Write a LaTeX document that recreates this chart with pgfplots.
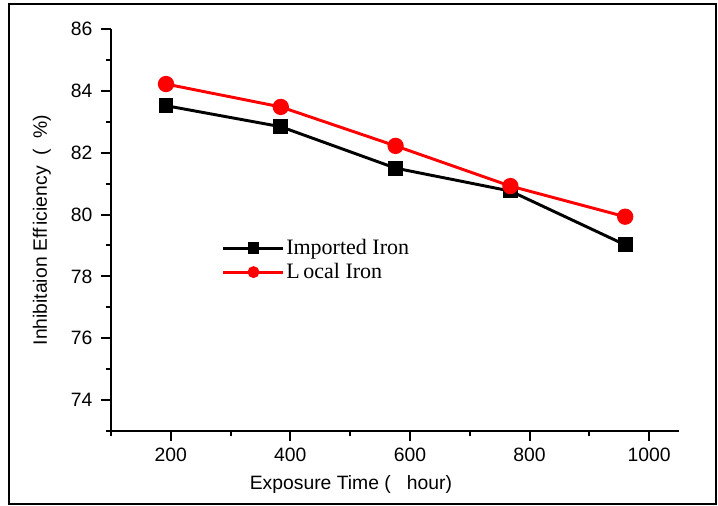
\documentclass[border=0pt]{standalone}
\usepackage{fontspec}
\setmainfont{Liberation Sans}
\newfontfamily\legendfont{Liberation Serif}
\usepackage{pgfplots}
\pgfplotsset{compat=1.18}
\definecolor{localred}{HTML}{FF0000}
\begin{document}
\begin{tikzpicture}
\useasboundingbox (-83.25pt,-56.25pt) rectangle (455.25pt,323.25pt);
\draw[line width=1.5pt] (-76.5pt,-54.75pt) rectangle (453.75pt,320.25pt);
\begin{axis}[
  scale only axis,
  width=426pt, height=301.5pt,
  xmin=100, xmax=1050,
  ymin=73, ymax=86,
  axis lines=left,
  axis line style={line width=1.5pt,-},
  xtick={200,400,...,1000},
  minor xtick={100,300,...,900},
  ytick={74,76,...,86},
  minor ytick={73,75,...,85},
  tick align=outside,
  major tick length=7.5pt,
  minor tick length=4pt,
  every tick/.style={line width=1.5pt,black},
  tick label style={font=\fontsize{14.5}{17}\selectfont},
  /pgf/number format/assume math mode=true,
  /pgf/number format/1000 sep={},
  xticklabel style={yshift=-2pt},
  yticklabel style={xshift=-3pt},
  xlabel={Exposure Time (\ \ \ hour)},
  ylabel={Inhibitaion Eff\,iciency \ (\ \ \%)},
  label style={font=\fontsize{14.5}{17}\selectfont},
  xlabel style={at={(axis description cs:0.4225,-0.132)},anchor=center},
  ylabel style={at={(axis description cs:-0.1215,0.5)},anchor=center},
  legend style={draw=none, fill=none, inner sep=0pt,
    at={(axis description cs:0.195,0.425)}, anchor=west,
    font=\legendfont\fontsize{16.5}{19}\selectfont,
    row sep=1pt,
    nodes={inner xsep=1pt}},
  legend cell align=left,
  legend image code/.code={
    \draw[#1] (0pt,0pt) -- (45pt,0pt);
    \draw[#1, mark size=3.3pt] plot coordinates {(22.5pt,0pt)};
  },
  clip=false
]
\addplot[black, line width=2.2pt, mark=square*, mark size=4.5pt]
  coordinates {(192,83.52) (384,82.84) (576,81.50) (768,80.76) (960,79.02)};
\addlegendentry{Imported Iron}
\addplot[localred, line width=2.2pt, mark=*, mark size=5pt]
  coordinates {(192,84.22) (384,83.48) (576,82.22) (768,80.92) (960,79.93)};
\addlegendentry{L\,ocal Iron}
\end{axis}
\end{tikzpicture}
\end{document}
